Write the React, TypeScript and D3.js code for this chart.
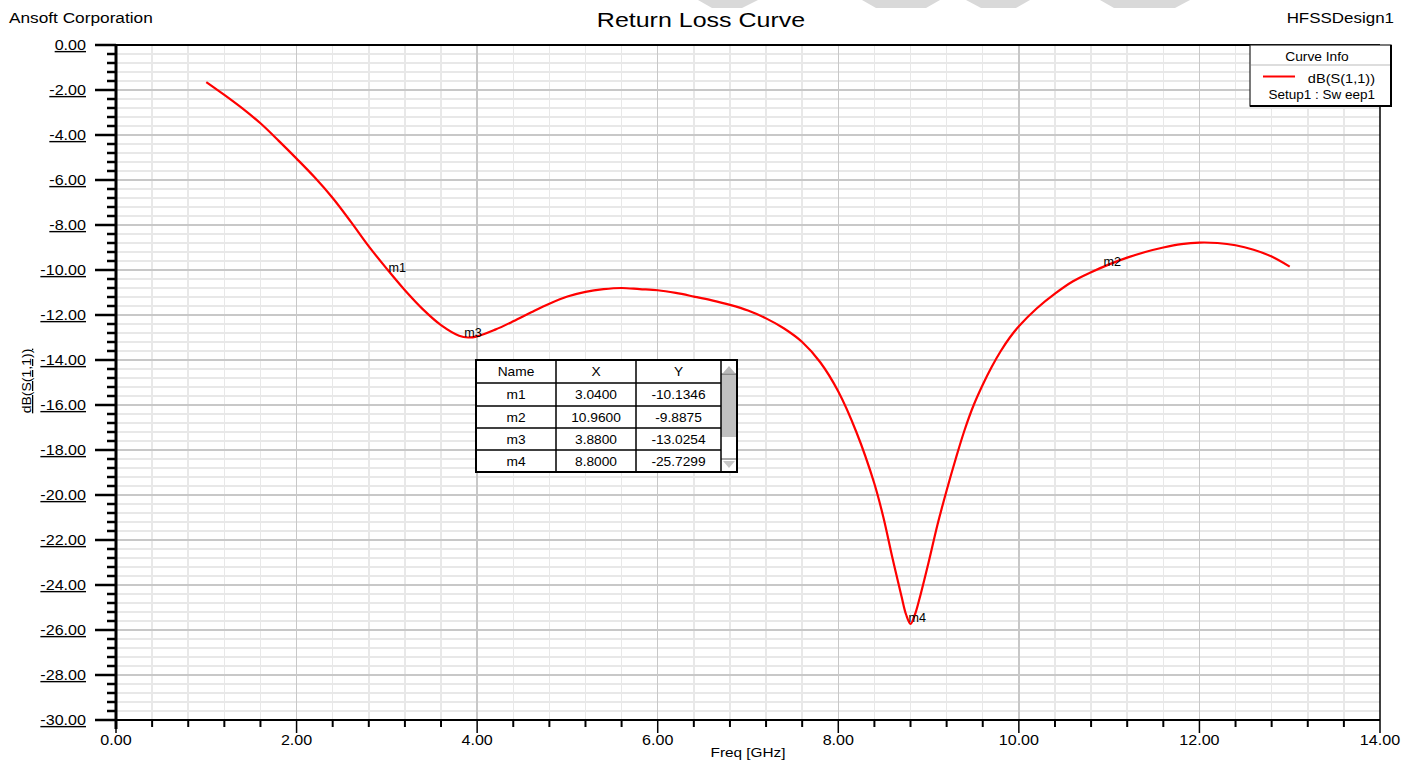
import React from 'react';
import * as d3 from 'd3';

// ---- data ----
const freqGHz = [
  1.0, 1.2, 1.4, 1.6, 1.8, 2.0, 2.2, 2.4, 2.6, 2.8, 3.0, 3.2, 3.4, 3.6, 3.8, 3.9, 4.0,
  4.2, 4.4, 4.6, 4.8, 5.0, 5.2, 5.4, 5.6, 5.8, 6.0, 6.2, 6.4, 6.6, 6.8, 7.0, 7.2, 7.4,
  7.6, 7.8, 8.0, 8.2, 8.4, 8.5, 8.6, 8.7, 8.75, 8.8, 8.85, 8.9, 9.0, 9.1, 9.2, 9.3, 9.4,
  9.5, 9.6, 9.7, 9.8, 9.9, 10.0, 10.2, 10.4, 10.6, 10.8, 11.0, 11.2, 11.4, 11.6, 11.8,
  12.0, 12.2, 12.4, 12.6, 12.8, 13.0,
];
const s11dB = [
  -1.65, -2.22, -2.82, -3.48, -4.25, -5.05, -5.88, -6.8, -7.85, -8.95, -9.95, -10.9, -11.75,
  -12.45, -12.92, -13.0, -12.95, -12.65, -12.28, -11.88, -11.5, -11.18, -10.97, -10.85,
  -10.8, -10.85, -10.9, -11.02, -11.18, -11.35, -11.55, -11.8, -12.15, -12.6, -13.2,
  -14.1, -15.4, -17.2, -19.5, -21.0, -22.8, -24.5, -25.3, -25.73, -25.3, -24.6, -23.0,
  -21.3, -19.8, -18.4, -17.1, -16.0, -15.1, -14.3, -13.6, -13.0, -12.5, -11.7, -11.05,
  -10.5, -10.1, -9.75, -9.45, -9.2, -9.0, -8.85, -8.78, -8.8, -8.9, -9.1, -9.4, -9.85,
];
const xTicks = [0, 2, 4, 6, 8, 10, 12, 14];
const yTicks = [0, -2, -4, -6, -8, -10, -12, -14, -16, -18, -20, -22, -24, -26, -28, -30];
const markerNames = ['m1', 'm2', 'm3', 'm4'];
const markerFreq = [3.04, 10.96, 3.88, 8.8];
const markerDB = [-10.1346, -9.8875, -13.0254, -25.7299];

const FONT = '"Liberation Sans", Arial, Helvetica, sans-serif';

type TP = {
  x: number; y: number; size: number; anchor?: 'start' | 'middle' | 'end';
  sx?: number; rot?: number; underline?: boolean; fill?: string; children: React.ReactNode;
};
function T({ x, y, size, anchor = 'start', sx = 1.15, rot = 0, underline, fill = '#000', children }: TP) {
  return (
    <text
      transform={`translate(${x},${y}) rotate(${rot}) scale(${sx},1)`}
      textAnchor={anchor}
      fontSize={size}
      fontFamily={FONT}
      fill={fill}
      textDecoration={underline ? 'underline' : undefined}
    >
      {children}
    </text>
  );
}

export default function App() {
  const x = d3.scaleLinear().domain([0, 14]).range([116, 1380]);
  const y = d3.scaleLinear().domain([-30, 0]).range([720, 45]);

  const minorXi = d3.range(1, 35).filter((i) => i % 5 !== 0);
  const minorYi = d3.range(1, 75).filter((i) => i % 5 !== 0);

  const pts: [number, number][] = freqGHz.map((f, i) => [f, s11dB[i]]);
  const line = d3
    .line<[number, number]>()
    .x((d) => x(d[0]))
    .y((d) => y(d[1]))
    .curve(d3.curveCatmullRom.alpha(0.5));

  // table layout
  const colX = [476, 556, 636, 721, 737];
  const rowY = [360, 383, 406, 428, 450, 472];
  const rows = markerNames.map((n, i) => [n, markerFreq[i].toFixed(4), markerDB[i].toFixed(4)]);

  return (
    <div style={{ position: 'absolute', left: 0, top: 0 }}>
      <svg width={1414} height={762} style={{ display: 'block', background: '#fff' }}>
        <rect x={0} y={0} width={1414} height={762} fill="#fff" />
        {/* watermark fragments */}
        <g fill="#d9d9d9">
          <polygon points="698,0 758,0 742,8 712,8" />
          <polygon points="862,0 940,0 926,8 876,8" />
          <polygon points="966,0 1030,0 1016,8 981,8" />
          <polygon points="1100,0 1190,0 1175,8 1114,8" />
        </g>

        {/* grid */}
        <g shapeRendering="crispEdges">
          {minorXi.map((i) => (
            <line key={'vx' + i} x1={x(i * 0.4)} x2={x(i * 0.4)} y1={45} y2={720} stroke="#e8e8e8" strokeWidth={1.5} />
          ))}
          {minorYi.map((i) => (
            <line key={'hy' + i} x1={116} x2={1380} y1={y(-i * 0.4)} y2={y(-i * 0.4)} stroke="#e8e8e8" strokeWidth={1.5} />
          ))}
          {xTicks.slice(1, -1).map((t) => (
            <line key={'Vx' + t} x1={x(t)} x2={x(t)} y1={45} y2={720} stroke="#c8c8c8" strokeWidth={1.5} />
          ))}
          {yTicks.slice(1, -1).map((t) => (
            <line key={'Hy' + t} x1={116} x2={1380} y1={y(t)} y2={y(t)} stroke="#c8c8c8" strokeWidth={1.5} />
          ))}
        </g>

        {/* frame */}
        <line x1={116} x2={1380} y1={45} y2={45} stroke="#000" strokeWidth={2} />
        <line x1={1380} x2={1380} y1={45} y2={720} stroke="#000" strokeWidth={1.5} />

        {/* x axis */}
        <line x1={95} x2={1380} y1={720} y2={720} stroke="#000" strokeWidth={2} />
        {minorXi.map((i) => (
          <line key={'tx' + i} x1={x(i * 0.4)} x2={x(i * 0.4)} y1={720} y2={727} stroke="#000" strokeWidth={2} />
        ))}
        {xTicks.map((t) => (
          <line key={'Tx' + t} x1={x(t)} x2={x(t)} y1={720} y2={733} stroke="#000" strokeWidth={1.5} />
        ))}
        {xTicks.map((t) => (
          <T key={'lx' + t} x={x(t)} y={745} size={14} anchor="middle">
            {t.toFixed(2)}
          </T>
        ))}
        <T x={748} y={757} size={13} anchor="middle" sx={1.18}>
          Freq [GHz]
        </T>

        {/* y axis */}
        <line x1={116} x2={116} y1={44} y2={729} stroke="#000" strokeWidth={3} />
        {minorYi.map((i) => (
          <line key={'ty' + i} x1={107} x2={116} y1={y(-i * 0.4)} y2={y(-i * 0.4)} stroke="#000" strokeWidth={2.5} />
        ))}
        {yTicks.map((t) => (
          <line key={'Ty' + t} x1={95} x2={116} y1={y(t)} y2={y(t)} stroke="#000" strokeWidth={2.5} />
        ))}
        {yTicks.map((t) => (
          <T key={'ly' + t} x={86} y={y(t) + 5} size={14} anchor="end" underline>
            {t.toFixed(2)}
          </T>
        ))}
        <T x={31} y={381} size={13} anchor="middle" rot={-90} sx={1.08} underline>
          dB(S(1,1))
        </T>

        {/* curve */}
        <path d={line(pts) ?? ''} fill="none" stroke="#ff0000" strokeWidth={2.2} strokeLinejoin="round" />

        {/* marker labels */}
        {markerNames.map((n, i) => (
          <T key={n} x={x(markerFreq[i]) - 2} y={y(markerDB[i]) - 1.5} size={12} sx={1.05}>
            {n}
          </T>
        ))}

        {/* marker table */}
        <g>
          <rect x={colX[0]} y={rowY[0]} width={colX[4] - colX[0]} height={rowY[5] - rowY[0]} fill="#fff" />
          <rect x={colX[3]} y={374} width={colX[4] - colX[3]} height={63} fill="#c0c0c0" />
          <line x1={colX[3]} x2={colX[4]} y1={374} y2={374} stroke="#555" strokeWidth={1} />
          <line x1={colX[3]} x2={colX[4]} y1={459} y2={459} stroke="#555" strokeWidth={1} />
          <polygon points={`${723},${373} ${735},${373} ${729},${366}`} fill="#b8b8b8" />
          <polygon points={`${723},${461} ${735},${461} ${729},${468}`} fill="#c8c8c8" />
          {colX.slice(1, 4).map((cx, i) => (
            <line key={'c' + i} x1={cx} x2={cx} y1={rowY[0]} y2={rowY[5]} stroke="#000" strokeWidth={1.5} />
          ))}
          {rowY.slice(1, 5).map((ry, i) => (
            <line key={'r' + i} x1={colX[0]} x2={colX[3]} y1={ry} y2={ry} stroke="#000" strokeWidth={1.5} />
          ))}
          <rect x={colX[0]} y={rowY[0]} width={colX[4] - colX[0]} height={rowY[5] - rowY[0]} fill="none" stroke="#000" strokeWidth={2} />
          {['Name', 'X', 'Y'].map((h, i) => (
            <T key={h} x={(colX[i] + colX[i + 1]) / 2} y={(rowY[0] + rowY[1]) / 2 + 4.5} size={12.5} anchor="middle" sx={1.1}>
              {h}
            </T>
          ))}
          {rows.map((r, ri) =>
            r.map((c, ci) => (
              <T key={ri + '-' + ci} x={(colX[ci] + colX[ci + 1]) / 2} y={(rowY[ri + 1] + rowY[ri + 2]) / 2 + 4.5} size={12.5} anchor="middle" sx={1.1}>
                {c}
              </T>
            ))
          )}
        </g>

        {/* legend */}
        <g>
          <rect x={1250} y={45} width={141} height={61} fill="#fff" stroke="#222" strokeWidth={1.2} />
          <line x1={1391} x2={1391} y1={45} y2={107} stroke="#000" strokeWidth={2} />
          <line x1={1250} x2={1392} y1={106} y2={106} stroke="#000" strokeWidth={2} />
          <line x1={1251} x2={1390} y1={65} y2={65} stroke="#bbb" strokeWidth={1} />
          <T x={1317} y={60.5} size={12.5} anchor="middle" sx={1.1}>
            Curve Info
          </T>
          <line x1={1263} x2={1295} y1={76.5} y2={76.5} stroke="#ff0000" strokeWidth={2} />
          <T x={1375} y={83} size={13} anchor="end" sx={1.12}>
            dB(S(1,1))
          </T>
          <T x={1375} y={98.5} size={12.5} anchor="end" sx={1.08}>
            Setup1 : Sw eep1
          </T>
        </g>

        {/* header texts */}
        <T x={9} y={23} size={15} sx={1.15}>
          Ansoft Corporation
        </T>
        <T x={701} y={27} size={21} anchor="middle" sx={1.19}>
          Return Loss Curve
        </T>
        <T x={1394} y={23} size={15} anchor="end" sx={1.13}>
          HFSSDesign1
        </T>
      </svg>
    </div>
  );
}
